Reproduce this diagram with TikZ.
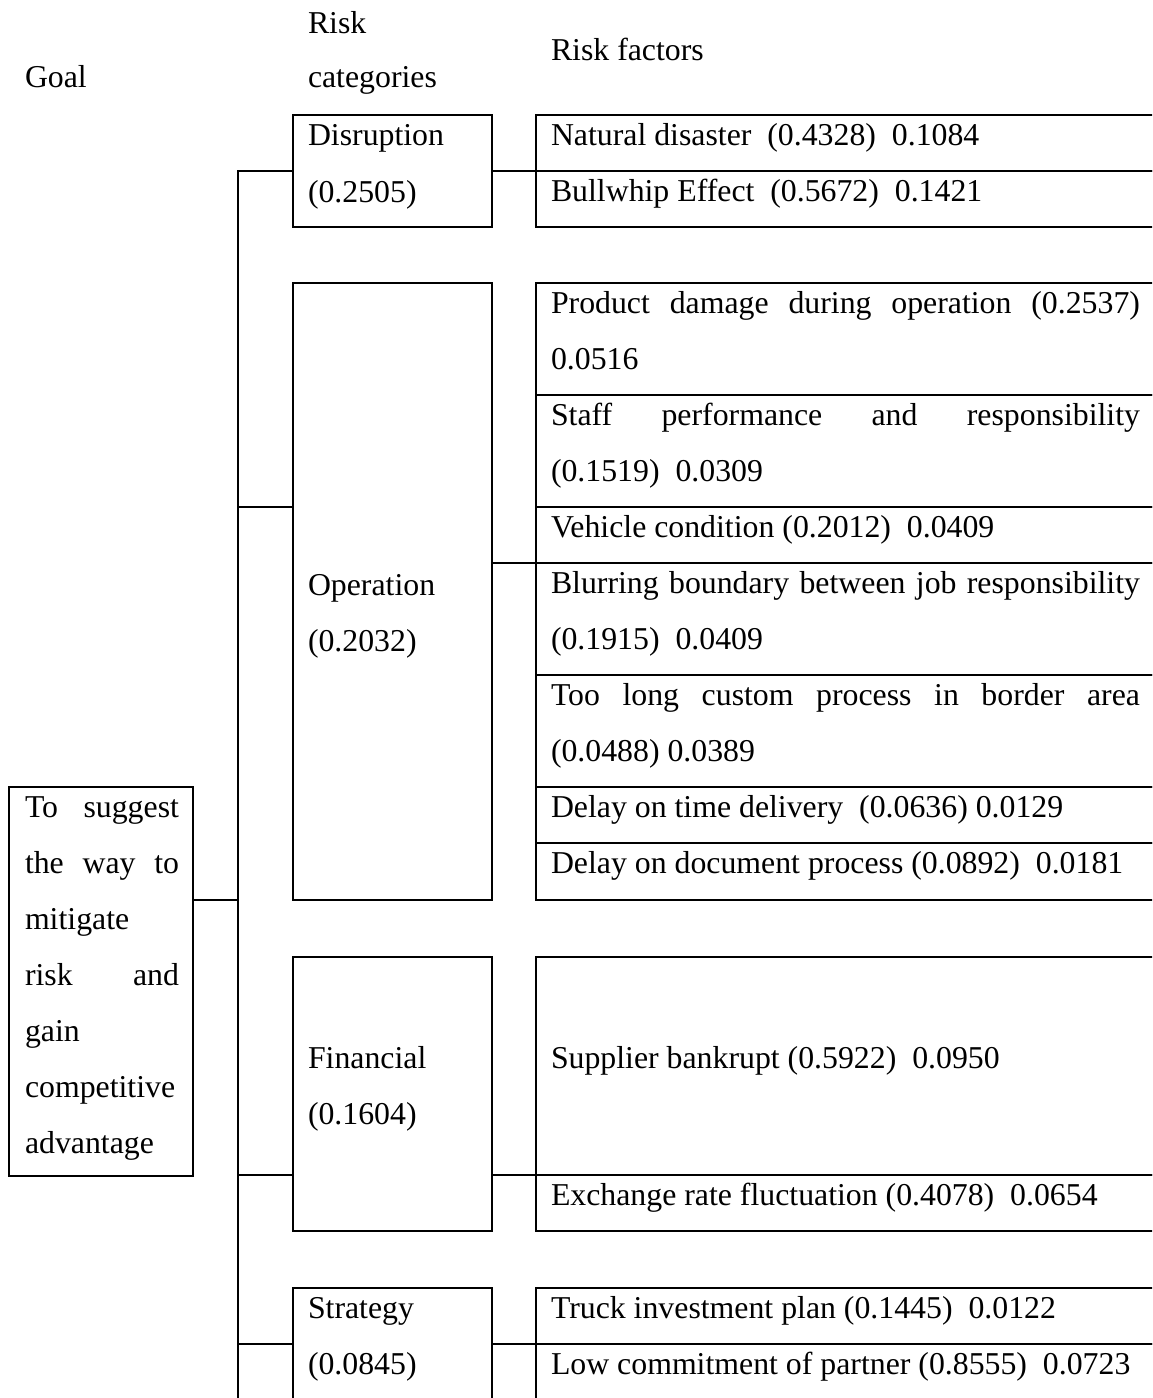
\documentclass[tikz,border=0pt]{standalone}
\usepackage{fontspec}
\setmainfont{Liberation Serif}
\newcommand{\justline}[2]{\makebox[#1pt][s]{#2}}
\begin{document}
\begin{tikzpicture}[x=1pt,y=-1pt,
  box/.style={draw, line width=2pt, rectangle, anchor=north west,
              inner sep=0pt, outer sep=0pt},
  lbl/.style={anchor=base west, inner sep=0pt, outer sep=0pt,
              font=\fontsize{31.8}{40}\selectfont},
  link/.style={line width=2pt}]
\path[use as bounding box] (0,0) rectangle (1152,1398);
\clip (0,0) rectangle (1152,1398);

% column headers
\node[lbl] (hgoal) at (25,87) {Goal};
\node[lbl] (hcatA) at (308,33) {Risk};
\node[lbl] (hcatB) at (308,87) {categories};
\node[lbl] (hfac) at (551,60) {Risk factors};

% goal box
\node[box, minimum width=184, minimum height=389] (goal) at (9,787) {};
\node[lbl] (g1) at (25,817)  {\justline{154}{To suggest}};
\node[lbl] (g2) at (25,873)  {\justline{154}{the way to}};
\node[lbl] (g3) at (25,929)  {mitigate};
\node[lbl] (g4) at (25,985)  {\justline{154}{risk and}};
\node[lbl] (g5) at (25,1041) {gain};
\node[lbl] (g6) at (25,1097) {competitive};
\node[lbl] (g7) at (25,1153) {advantage};

% risk categories
\node[box, minimum width=199, minimum height=112] (dis) at (293,115) {};
\node[box, minimum width=199, minimum height=617] (op)  at (293,283) {};
\node[box, minimum width=199, minimum height=274] (fin) at (293,957) {};
\node[box, minimum width=199, minimum height=124] (str) at (293,1288) {};

\node[lbl] (c1a) at (308,145)  {Disruption};
\node[lbl] (c1b) at (308,202)  {(0.2505)};
\node[lbl] (c2a) at (308,595)  {Operation};
\node[lbl] (c2b) at (308,651)  {(0.2032)};
\node[lbl] (c3a) at (308,1068) {Financial};
\node[lbl] (c3b) at (308,1124) {(0.1604)};
\node[lbl] (c4a) at (308,1318) {Strategy};
\node[lbl] (c4b) at (308,1374) {(0.0845)};

% risk factor rows
\node[box, minimum width=630, minimum height=56]  (f1)  at (536,115)  {};
\node[box, minimum width=630, minimum height=56]  (f2)  at (536,171)  {};
\node[box, minimum width=630, minimum height=112] (f3)  at (536,283)  {};
\node[box, minimum width=630, minimum height=112] (f4)  at (536,395)  {};
\node[box, minimum width=630, minimum height=56]  (f5)  at (536,507)  {};
\node[box, minimum width=630, minimum height=112] (f6)  at (536,563)  {};
\node[box, minimum width=630, minimum height=112] (f7)  at (536,675)  {};
\node[box, minimum width=630, minimum height=56]  (f8)  at (536,787)  {};
\node[box, minimum width=630, minimum height=57]  (f9)  at (536,843)  {};
\node[box, minimum width=630, minimum height=218] (f10) at (536,957)  {};
\node[box, minimum width=630, minimum height=56]  (f11) at (536,1175) {};
\node[box, minimum width=630, minimum height=56]  (f12) at (536,1288) {};
\node[box, minimum width=630, minimum height=68]  (f13) at (536,1344) {};

\node[lbl] (r1)  at (551,145)  {Natural disaster~~(0.4328)~~0.1084};
\node[lbl] (r2)  at (551,201)  {Bullwhip Effect~~(0.5672)~~0.1421};
\node[lbl] (r3a) at (551,313)  {\justline{589}{Product damage during operation (0.2537)}};
\node[lbl] (r3b) at (551,369)  {0.0516};
\node[lbl] (r4a) at (551,425)  {\justline{589}{Staff performance and responsibility}};
\node[lbl] (r4b) at (551,481)  {(0.1519)~~0.0309};
\node[lbl] (r5)  at (551,537)  {Vehicle condition (0.2012)~~0.0409};
\node[lbl] (r6a) at (551,593)  {\justline{589}{Blurring boundary between job responsibility}};
\node[lbl] (r6b) at (551,649)  {(0.1915)~~0.0409};
\node[lbl] (r7a) at (551,705)  {\justline{589}{Too long custom process in border area}};
\node[lbl] (r7b) at (551,761)  {(0.0488) 0.0389};
\node[lbl] (r8)  at (551,817)  {Delay on time delivery~~(0.0636) 0.0129};
\node[lbl] (r9)  at (551,873)  {Delay on document process (0.0892)~~0.0181};
\node[lbl] (r10) at (551,1068) {Supplier bankrupt (0.5922)~~0.0950};
\node[lbl] (r11) at (551,1205) {Exchange rate fluctuation (0.4078)~~0.0654};
\node[lbl] (r12) at (551,1318) {Truck investment plan (0.1445)~~0.0122};
\node[lbl] (r13) at (551,1374) {Low commitment of partner (0.8555)~~0.0723};

% trunk and branches
\coordinate (ttop) at (238,171);
\coordinate (tbot) at (238,1412);
\draw[link] (dis.west) -- (ttop) -- (tbot);
\draw[link] (ttop |- f4.south) -- (op.west |- f4.south);
\draw[link] (ttop |- f10.south) -- (fin.west |- f10.south);
\draw[link] (ttop |- f12.south) -- (str.west |- f12.south);
\draw[link] (goal.east |- op.south) -- (ttop |- op.south);

% category to factor links
\draw[link] (dis.east) -- (f1.south west);
\draw[link] (op.east |- f5.south) -- (f5.south west);
\draw[link] (fin.east |- f10.south) -- (f10.south west);
\draw[link] (str.east |- f12.south) -- (f12.south west);
\end{tikzpicture}
\end{document}
